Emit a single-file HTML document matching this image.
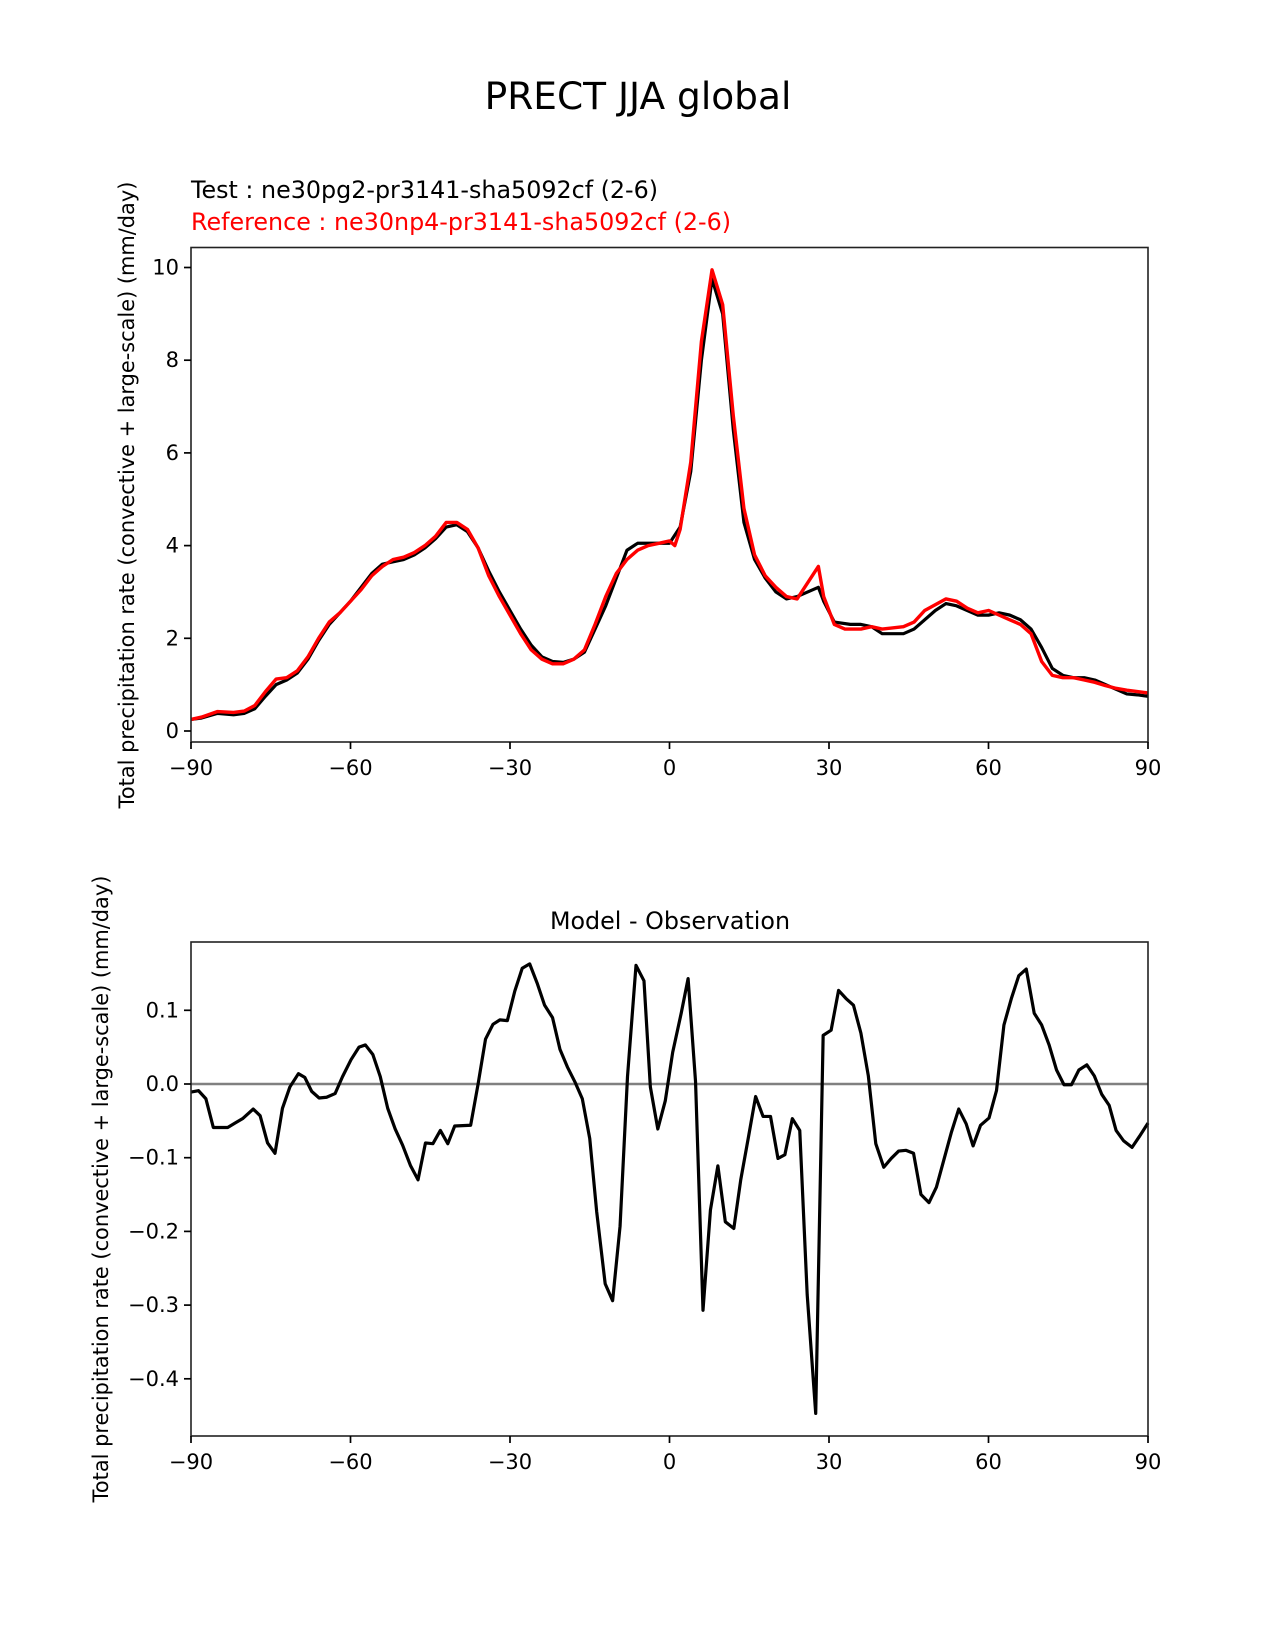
<!DOCTYPE html>
<html><head><meta charset="utf-8"><style>
body{margin:0;background:#fff}
svg{display:block;font-family:"DejaVu Sans","Liberation Sans",sans-serif}
</style></head><body>
<svg id="fig" width="1275" height="1650" viewBox="0 0 1275 1650" xmlns="http://www.w3.org/2000/svg">
<rect width="1275" height="1650" fill="#fff"/>
<text x="638" y="109" font-size="37.5" text-anchor="middle">PRECT JJA global</text>
<text x="191" y="198" font-size="23.8">Test : ne30pg2-pr3141-sha5092cf (2-6)</text>
<text x="191" y="230" font-size="23.8" fill="#f00">Reference : ne30np4-pr3141-sha5092cf (2-6)</text>
<text x="670" y="929" font-size="23.8" text-anchor="middle">Model - Observation</text>
<text transform="translate(134,495) rotate(-90)" font-size="20.9" text-anchor="middle">Total precipitation rate (convective + large-scale) (mm/day)</text>
<text transform="translate(108,1189) rotate(-90)" font-size="20.9" text-anchor="middle">Total precipitation rate (convective + large-scale) (mm/day)</text>
<g id="top"></g><g id="bot"></g>
</svg>
<script>
const xTicks=[-90,-60,-30,0,30,60,90];
const topYTicks=[0,2,4,6,8,10];
const botYTicks=[0.1,0.0,-0.1,-0.2,-0.3,-0.4];
const botYLabels=["0.1","0.0","\u22120.1","\u22120.2","\u22120.3","\u22120.4"];
const testLat=[-90,-88,-85,-82,-80,-78,-76,-74,-72,-70,-68,-66,-64,-62,-60,-58,-56,-54,-52,-50,-48,-46,-44,-42,-40,-38,-36,-34,-32,-30,-28,-26,-24,-22,-20,-18,-16,-14,-12,-10,-8,-6,-4,-2,0,2,4,6,8,10,12,14,16,18,20,22,24,26,28,29,31,34,36,38,40,44,46,50,52,54,56,58,60,62,64,66,68,70,72,74,76,78,80,82,84,86,88,90];
const testVal=[0.25,0.28,0.38,0.35,0.38,0.48,0.75,1.0,1.1,1.25,1.55,1.95,2.3,2.55,2.8,3.1,3.4,3.6,3.65,3.7,3.8,3.95,4.15,4.4,4.45,4.3,3.95,3.45,3.0,2.6,2.2,1.85,1.6,1.5,1.48,1.55,1.7,2.2,2.7,3.3,3.9,4.05,4.05,4.05,4.05,4.4,5.6,8.0,9.75,9.0,6.5,4.5,3.7,3.3,3.0,2.85,2.9,3.0,3.1,2.8,2.35,2.3,2.3,2.25,2.1,2.1,2.2,2.6,2.75,2.7,2.6,2.5,2.5,2.55,2.5,2.4,2.2,1.8,1.35,1.2,1.15,1.15,1.1,1.0,0.9,0.8,0.78,0.75];
const refLat=[-90,-88,-85,-82,-80,-78,-76,-74,-72,-70,-68,-66,-64,-62,-60,-58,-56,-54,-52,-50,-48,-46,-44,-42,-40,-38,-36,-34,-32,-30,-28,-26,-24,-22,-20,-18,-16,-14,-12,-10,-8,-6,-4,-2,0,1,2,4,6,8,10,12,14,16,18,20,22,24,26,28,29,31,33,36,38,40,44,46,48,52,54,56,58,60,62,64,66,68,70,72,74,76,78,80,82,84,86,88,90];
const refVal=[0.25,0.3,0.42,0.4,0.43,0.55,0.85,1.12,1.15,1.3,1.6,2.0,2.35,2.55,2.8,3.05,3.35,3.55,3.7,3.75,3.85,4.0,4.2,4.5,4.5,4.35,3.95,3.35,2.9,2.5,2.1,1.75,1.55,1.45,1.45,1.55,1.75,2.3,2.9,3.4,3.7,3.9,4.0,4.05,4.1,4.0,4.35,5.8,8.4,9.95,9.2,6.8,4.8,3.8,3.35,3.1,2.9,2.85,3.2,3.55,2.9,2.3,2.2,2.2,2.25,2.2,2.25,2.35,2.6,2.85,2.8,2.65,2.55,2.6,2.5,2.4,2.3,2.1,1.5,1.2,1.15,1.15,1.1,1.05,0.98,0.92,0.88,0.85,0.82];
const diffLat=[-90,-88.6,-87.2,-85.8,-83.1,-81.7,-80.3,-78.3,-77,-75.6,-74.2,-72.8,-71.4,-69.8,-68.6,-67.3,-65.9,-64.5,-62.9,-61.5,-59.9,-58.4,-57.2,-55.8,-54.4,-53,-51.6,-50.2,-48.7,-47.3,-45.9,-44.5,-43.1,-41.7,-40.4,-37.4,-36,-34.6,-33.2,-31.9,-30.5,-29.1,-27.7,-26.3,-24.9,-23.5,-22,-20.6,-19.2,-17.8,-16.4,-15,-13.7,-12.1,-10.7,-9.3,-7.9,-6.3,-4.8,-3.6,-2.2,-0.8,0.6,2.2,3.5,4.9,6.3,7.7,9.1,10.5,12.1,13.4,14.8,16.2,17.6,19,20.4,21.7,23.1,24.5,25.9,27.5,28.9,30.4,31.8,33.2,34.6,36,37.4,38.8,40.3,41.7,43.1,44.5,45.9,47.3,48.8,50.2,51.6,53,54.4,55.8,57.1,58.5,60.1,61.5,62.9,64.3,65.7,67.1,68.6,70,71.4,72.8,74.2,75.6,77,78.5,79.9,81.3,82.7,84,85.4,87,88.4,90];
const diffVal=[-0.011,-0.009,-0.02,-0.059,-0.059,-0.053,-0.047,-0.034,-0.043,-0.08,-0.094,-0.033,-0.004,0.014,0.009,-0.01,-0.019,-0.018,-0.013,0.01,0.033,0.05,0.053,0.04,0.01,-0.033,-0.061,-0.083,-0.111,-0.13,-0.08,-0.081,-0.063,-0.081,-0.057,-0.056,0,0.061,0.081,0.087,0.086,0.126,0.157,0.163,0.137,0.107,0.09,0.047,0.023,0.003,-0.02,-0.074,-0.173,-0.271,-0.294,-0.193,0.01,0.161,0.14,-0.004,-0.061,-0.023,0.043,0.096,0.143,0.003,-0.307,-0.171,-0.111,-0.187,-0.196,-0.13,-0.074,-0.017,-0.044,-0.044,-0.101,-0.096,-0.047,-0.063,-0.286,-0.447,0.066,0.073,0.127,0.116,0.107,0.069,0.011,-0.081,-0.113,-0.101,-0.091,-0.09,-0.094,-0.15,-0.161,-0.14,-0.103,-0.066,-0.034,-0.054,-0.084,-0.056,-0.046,-0.009,0.08,0.116,0.147,0.156,0.096,0.08,0.053,0.019,-0.001,-0.001,0.019,0.026,0.011,-0.014,-0.029,-0.063,-0.077,-0.086,-0.071,-0.053];

const NS="http://www.w3.org/2000/svg";
const L=191,R=1148;
const xs=v=>L+(v+90)/180*(R-L);
const ysTop=v=>731-v*46.35;
const ysBot=v=>1084-v*737;
function mk(parent,tag,attrs){const e=document.createElementNS(NS,tag);for(const k in attrs)e.setAttribute(k,attrs[k]);parent.appendChild(e);return e;}
function fmt(v){return v<0?"\u2212"+Math.abs(v):String(v);}
function axes(g,top,bot,ys,yt,ylab,pref){
  xTicks.forEach(t=>{
    const l=mk(g,'line',{x1:xs(t),x2:xs(t),y1:bot,y2:bot+7,stroke:'#000','stroke-width':1.7});
    
    
    const tx=mk(g,'text',{x:xs(t),y:bot+33,'font-size':21,'text-anchor':'middle'});
    tx.textContent=fmt(t);
    
    
  });
  yt.forEach((t,i)=>{
    const l=mk(g,'line',{x1:L-7,x2:L,y1:ys(t),y2:ys(t),stroke:'#000','stroke-width':1.7});
    
    
    const tx=mk(g,'text',{x:L-12,y:ys(t)+7,'font-size':21,'text-anchor':'end'});
    tx.textContent=ylab[i];
    
    
  });
}
function line(g,lat,val,ys,col,w,name){
  const p=mk(g,'polyline',{points:lat.map((x,i)=>xs(x)+','+ys(val[i])).join(' '),fill:'none',stroke:col,'stroke-width':w,'stroke-linejoin':'round'});
  
  
}
const gt=document.getElementById('top');
line(gt,testLat,testVal,ysTop,'#000',3.2,'test-line');
line(gt,refLat,refVal,ysTop,'#f00',3.4,'reference-line');
let f=mk(gt,'rect',{x:L,y:247.5,width:R-L,height:742-247.5,fill:'none',stroke:'#222','stroke-width':1.6});


axes(gt,247.5,742,ysTop,topYTicks,topYTicks.map(String),'top');
const gb=document.getElementById('bot');
let z=mk(gb,'line',{x1:L,x2:R,y1:ysBot(0),y2:ysBot(0),stroke:'#808080','stroke-width':2.6});


line(gb,diffLat,diffVal,ysBot,'#000',3.2,'difference-line');
f=mk(gb,'rect',{x:L,y:942,width:R-L,height:1436-942,fill:'none',stroke:'#222','stroke-width':1.6});


axes(gb,942,1436,ysBot,botYTicks,botYLabels,'bottom');
</script>
</body></html>
